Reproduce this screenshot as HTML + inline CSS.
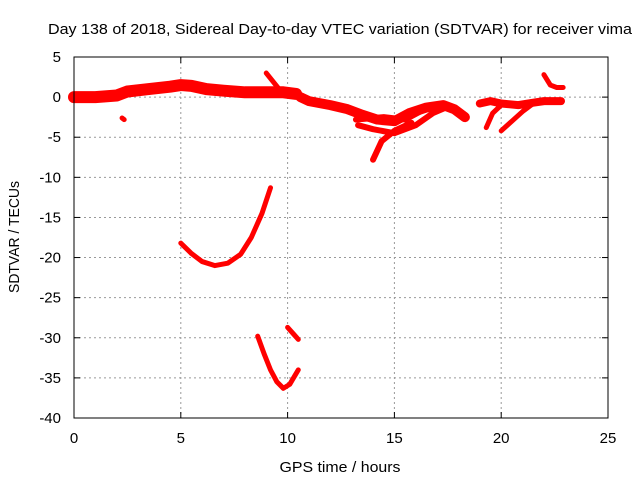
<!DOCTYPE html>
<html><head><meta charset="utf-8"><style>
body{margin:0;background:#fff}
svg{font-family:"Liberation Sans",sans-serif;font-size:15px}
</style></head><body>
<svg id="c" width="640" height="480">
<text x="340" y="34" text-anchor="middle" textLength="584" lengthAdjust="spacingAndGlyphs">Day 138 of 2018, Sidereal Day-to-day VTEC variation (SDTVAR) for receiver vima</text>
<text x="340" y="472" text-anchor="middle" textLength="121" lengthAdjust="spacingAndGlyphs">GPS time / hours</text>
<text transform="translate(19,237) rotate(-90)" text-anchor="middle" textLength="112" lengthAdjust="spacingAndGlyphs">SDTVAR / TECUs</text>
<g id="grid"></g><g id="ticks"></g><g id="marks"></g>
<rect x="74" y="57" width="534" height="361" fill="none" stroke="#000"/>
</svg>
<script>
const xTicks=[0,5,10,15,20,25];
const yTicks=[5,0,-5,-10,-15,-20,-25,-30,-35,-40];
const trackMain=[[0,0],[1,0],[2,0.2],[2.5,0.7],[3.5,1],[4.5,1.3],[5,1.5],[5.5,1.4],[6.2,1],[7,0.8],[8,0.6],[9,0.6],[9.8,0.6],[10.4,0.4]];
const trackSpike1=[[9,3],[9.3,2],[9.6,1],[10.3,0.7]];
const trackDot=[[2.25,-2.6],[2.35,-2.8]];
const trackMid=[[10.6,0],[11,-0.5],[12,-1],[12.8,-1.5],[13.5,-2.2],[14.2,-2.8],[15,-3],[15.7,-2],[16.5,-1.3],[17.3,-1],[17.8,-1.5],[18.3,-2.5]];
const trackBranchA=[[14,-7.8],[14.4,-5.5],[15,-4.2],[15.8,-3.2]];
const trackBranchB=[[13.3,-3.5],[14,-4],[15,-4.5],[16,-3.5],[16.8,-2],[17.5,-1.2]];
const trackBranchC=[[13.2,-2.8],[14.5,-2.5],[15.5,-2.8],[16.2,-1.8]];
const trackRight=[[19,-0.8],[19.5,-0.5],[20,-0.8],[20.8,-1],[21.5,-0.7],[22,-0.5],[22.8,-0.5]];
const trackBranchD=[[19.3,-3.8],[19.6,-2],[20,-1]];
const trackBranchE=[[20,-4.2],[20.5,-3],[21,-1.8],[21.5,-0.8]];
const trackSpike2=[[22,2.8],[22.3,1.5],[22.6,1.2],[22.9,1.2]];
const trackArc1=[[5,-18.2],[5.5,-19.5],[6,-20.5],[6.6,-21],[7.2,-20.7],[7.8,-19.6],[8.3,-17.5],[8.8,-14.5],[9.2,-11.3]];
const trackArc2=[[8.6,-29.8],[8.9,-32],[9.2,-34],[9.5,-35.5],[9.8,-36.3],[10.1,-35.8],[10.5,-34]];
const trackArc3=[[10,-28.7],[10.3,-29.6],[10.5,-30.2]];
const tracks=[trackMain,trackSpike1,trackDot,trackMid,trackBranchA,trackBranchB,trackBranchC,trackRight,trackBranchD,trackBranchE,trackSpike2,trackArc1,trackArc2,trackArc3];
const widths=[12,5,5,10,6,6,6,8,5,5,5,5,5,5];
const X=v=>74+v*534/25, Y=v=>57+(5-v)*361/45;
const NS="http://www.w3.org/2000/svg";
const g=document.getElementById('grid'),t=document.getElementById('ticks'),m=document.getElementById('marks');
function mk(p,tag,a){const e=document.createElementNS(NS,tag);for(const k in a)e.setAttribute(k,a[k]);p.appendChild(e);return e;}
xTicks.forEach(v=>{
 if(v>0&&v<25){const l=mk(g,'line',{x1:X(v),x2:X(v),y1:57,y2:418,stroke:'#999','stroke-dasharray':'2,3'});
 
 }
 mk(t,'line',{x1:X(v),x2:X(v),y1:418,y2:412,stroke:'#000'});
 mk(t,'line',{x1:X(v),x2:X(v),y1:57,y2:63,stroke:'#000'});
 const tx=mk(t,'text',{x:X(v),y:443,'text-anchor':'middle'});tx.textContent=v;
 
 
});
yTicks.forEach(v=>{
 if(v<5&&v>-40){const l=mk(g,'line',{x1:74,x2:608,y1:Y(v),y2:Y(v),stroke:'#999','stroke-dasharray':'2,3'});
 
 }
 mk(t,'line',{x1:74,x2:80,y1:Y(v),y2:Y(v),stroke:'#000'});
 mk(t,'line',{x1:602,x2:608,y1:Y(v),y2:Y(v),stroke:'#000'});
 const tx=mk(t,'text',{x:61,y:Y(v)+5,'text-anchor':'end'});tx.textContent=v;
 
 
});
tracks.forEach((tr,i)=>{
 const p=mk(m,'polyline',{points:tr.map(d=>X(d[0])+','+Y(d[1])).join(' '),fill:'none',stroke:'#f00','stroke-width':widths[i],'stroke-linejoin':'round','stroke-linecap':'round'});
 
 
});
</script>
</body></html>
